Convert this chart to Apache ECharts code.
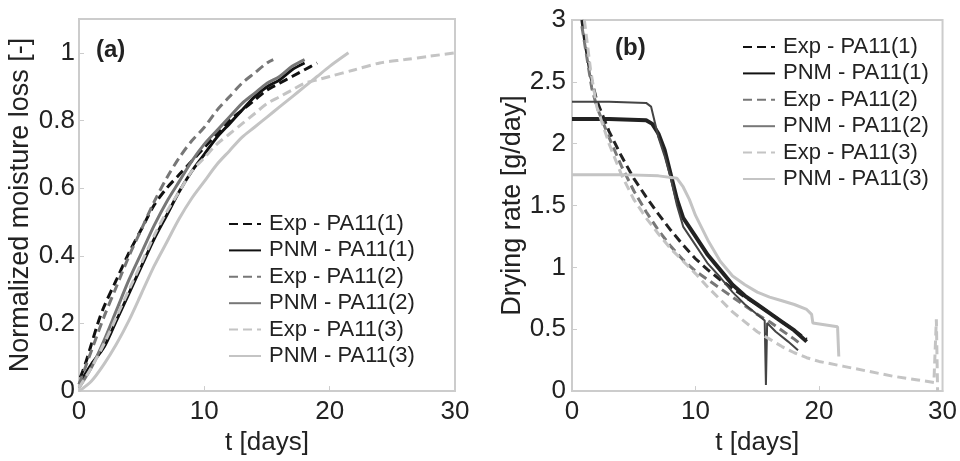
<!DOCTYPE html>
<html>
<head>
<meta charset="utf-8">
<script src="https://cdn.jsdelivr.net/npm/echarts@6/dist/echarts.min.js"></script>
<style>
  html, body { margin: 0; padding: 0; background: #fff; }
  #main { width: 960px; height: 461px; }
</style>
</head>
<body>
<div id="main"></div>
<script>
// legend / series names
var names = ['Exp - PA11(1)', 'PNM - PA11(1)', 'Exp - PA11(2)', 'PNM - PA11(2)', 'Exp - PA11(3)', 'PNM - PA11(3)'];

// (a) normalized moisture loss [-] vs t [days]
var lossExp1 = [[0.1,0.04],[0.5,0.08],[1,0.14],[1.5,0.2],[2,0.25],[3,0.33],[4,0.41],[5,0.48],[6,0.55],[7,0.6],[8,0.64],[9,0.68],[10,0.72],[11,0.76],[12,0.8],[13,0.83],[14,0.86],[15,0.89],[16,0.91],[17,0.93],[18,0.95],[19,0.97]];
var lossPnm1 = [[0,0.02],[1,0.08],[2,0.13],[3,0.21],[4,0.29],[5,0.37],[6,0.45],[7,0.52],[8,0.59],[9,0.65],[10,0.7],[11,0.75],[12,0.79],[13,0.83],[14,0.87],[15,0.9],[16,0.92],[17,0.95],[18,0.97]];
var lossExp2 = [[0,0.02],[1,0.12],[2,0.22],[3,0.31],[4,0.4],[5,0.48],[6,0.56],[7,0.63],[8,0.69],[9,0.74],[10,0.78],[11,0.83],[12,0.87],[13,0.91],[14,0.94],[15,0.97],[15.5,0.98]];
var lossPnm2 = [[0,0.01],[1,0.07],[2,0.15],[3,0.24],[4,0.33],[5,0.41],[6,0.49],[7,0.56],[8,0.62],[9,0.68],[10,0.73],[11,0.77],[12,0.81],[13,0.85],[14,0.88],[15,0.91],[16,0.93],[17,0.96],[18,0.98]];
var lossExp3 = [[0,0.01],[1,0.07],[2,0.14],[3,0.22],[4,0.3],[5,0.38],[6,0.46],[7,0.53],[8,0.59],[9,0.65],[10,0.69],[11,0.73],[12,0.76],[13,0.79],[14,0.82],[15,0.85],[16,0.87],[17,0.89],[18,0.91],[19,0.92],[20,0.93],[22,0.95],[24,0.97],[26,0.98],[28,0.99],[30,1.0]];
var lossPnm3 = [[0,0],[1,0.03],[2,0.08],[3,0.14],[4,0.21],[5,0.29],[6,0.37],[7,0.44],[8,0.51],[9,0.57],[10,0.62],[11,0.67],[12,0.71],[13,0.75],[14,0.78],[15,0.81],[16,0.84],[17,0.87],[18,0.9],[19,0.93],[20,0.96],[21.5,1.0]];

// (b) drying rate [g/day] vs t [days]
var rateExp1 = [[0.8,3.0],[1.0,2.85],[1.5,2.55],[2,2.35],[3,2.1],[4,1.9],[5,1.72],[6,1.57],[7,1.43],[8,1.3],[9,1.18],[10,1.07],[11,0.98],[12,0.9],[13,0.83],[14,0.76],[15,0.7],[16,0.63],[17,0.56],[18,0.49],[19,0.42]];
var ratePnm1 = [[0,2.2],[3,2.2],[6,2.19],[6.5,2.16],[7,2.08],[7.5,1.95],[8,1.75],[8.5,1.55],[9,1.4],[10,1.25],[11,1.1],[12,0.98],[13,0.86],[14,0.77],[15,0.7],[16,0.63],[17,0.56],[18,0.49],[19,0.4]];
var rateExp2 = [[0.8,2.95],[1.2,2.7],[1.6,2.45],[2,2.3],[3,2.05],[4,1.82],[5,1.62],[6,1.45],[7,1.3],[8,1.17],[9,1.06],[10,0.97],[11,0.9],[12,0.83],[13,0.76],[14,0.69],[15,0.62],[16,0.56],[17,0.49],[18,0.42],[18.5,0.38]];
var ratePnm2 = [[0,2.34],[3,2.34],[6,2.33],[6.4,2.3],[7,2.05],[7.5,1.9],[8,1.72],[8.5,1.5],[9,1.33],[10,1.18],[11,1.03],[12,0.92],[13,0.8],[14,0.7],[15,0.62],[15.6,0.57],[15.7,0.05],[15.8,0.55],[16.5,0.48],[17.5,0.4],[18.3,0.33]];
var rateExp3 = [[1,3.0],[1.5,2.6],[2,2.3],[3,2.0],[4,1.75],[5,1.55],[6,1.4],[7,1.27],[8,1.15],[9,1.05],[10,0.95],[11,0.84],[12,0.74],[13,0.64],[14,0.56],[15,0.48],[16,0.42],[17,0.36],[18,0.31],[19,0.27],[20,0.24],[22,0.2],[24,0.16],[26,0.12],[28,0.09],[29.3,0.07],[29.5,0.58],[29.6,0.0]];
var ratePnm3 = [[0,1.75],[4,1.75],[7,1.74],[8.5,1.72],[9,1.65],[9.5,1.55],[10,1.42],[11,1.22],[12,1.05],[13,0.93],[14,0.86],[15,0.8],[16,0.76],[17,0.73],[18,0.7],[19,0.66],[19.4,0.62],[19.5,0.55],[21.5,0.52],[21.6,0.28]];

var xTicks = [0, 10, 20, 30];

var FONT = '"Liberation Sans", Arial, sans-serif';
var black = '#111', grey = '#777', light = '#c4c4c4';

function line(name, data, color, dashed, width, idx, smooth) {
  return {
    name: name,
    type: 'line',
    xAxisIndex: idx,
    yAxisIndex: idx,
    data: data,
    showSymbol: false,
    symbol: 'none',
    smooth: smooth,
    lineStyle: { color: color, width: width, type: dashed ? [9, 5] : 'solid' },
    itemStyle: { color: color },
    z: 3
  };
}

function xAxis(idx) {
  return {
    type: 'value', gridIndex: idx, min: xTicks[0], max: xTicks[xTicks.length - 1], interval: 10,
    name: 't [days]', nameLocation: 'middle', nameGap: 30,
    nameTextStyle: { fontSize: 26, color: '#222', fontFamily: FONT },
    axisLine: { show: true, lineStyle: { color: '#ccc', width: 2 } },
    axisTick: { show: true, inside: true, length: 5, lineStyle: { color: '#ccc' } },
    axisLabel: { fontSize: 26, color: '#222', fontFamily: FONT, margin: 8 },
    splitLine: { show: false }
  };
}

function legend(left, top) {
  return {
    data: names, orient: 'vertical', left: left, top: top,
    itemWidth: 32, itemHeight: 14, itemGap: 2.4, selectedMode: false,
    itemStyle: { opacity: 0 },
    textStyle: { fontSize: 22, color: '#222', fontFamily: FONT, lineHeight: 24, padding: [0, 0, 0, 3] }
  };
}

var chart = echarts.init(document.getElementById('main'));
chart.setOption({
  animation: false,
  backgroundColor: '#fff',
  title: [
    { text: '(a)', left: 96, top: 38, padding: 0, textStyle: { fontSize: 24, fontWeight: 'bold', color: '#222', fontFamily: FONT } },
    { text: '(b)', left: 615, top: 36, padding: 0, textStyle: { fontSize: 24, fontWeight: 'bold', color: '#222', fontFamily: FONT } }
  ],
  grid: [
    { left: 79, top: 19, width: 376, height: 375, show: true, borderColor: '#ccc', borderWidth: 2 },
    { left: 572, top: 20, width: 376, height: 373, show: true, borderColor: '#ccc', borderWidth: 2 }
  ],
  xAxis: [xAxis(0), xAxis(1)],
  yAxis: [
    {
      type: 'value', gridIndex: 0, min: 0, max: 1.1, interval: 0.2,
      name: 'Normalized moisture loss [-]', nameLocation: 'middle', nameGap: 45,
      nameTextStyle: { fontSize: 27, color: '#222', fontFamily: FONT },
      axisLine: { show: true, lineStyle: { color: '#ccc', width: 2 } },
      axisTick: { show: true, inside: true, length: 5, lineStyle: { color: '#ccc' } },
      axisLabel: { fontSize: 26, color: '#222', fontFamily: FONT, margin: 4, showMaxLabel: false },
      splitLine: { show: false }
    },
    {
      type: 'value', gridIndex: 1, min: 0, max: 3, interval: 0.5,
      name: 'Drying rate [g/day]', nameLocation: 'middle', nameGap: 44,
      nameTextStyle: { fontSize: 27, color: '#222', fontFamily: FONT },
      axisLine: { show: true, lineStyle: { color: '#ccc', width: 2 } },
      axisTick: { show: true, inside: true, length: 5, lineStyle: { color: '#ccc' } },
      axisLabel: { fontSize: 26, color: '#222', fontFamily: FONT, margin: 6 },
      splitLine: { show: false }
    }
  ],
  legend: [legend(223, 207), legend(737, 30)],
  series: [
    line(names[0], lossExp1, black, true, 3, 0, 0.3),
    line(names[1], lossPnm1, black, false, 3, 0, 0.3),
    line(names[2], lossExp2, grey, true, 3, 0, 0.3),
    line(names[3], lossPnm2, grey, false, 3, 0, 0.3),
    line(names[4], lossExp3, light, true, 3, 0, 0.3),
    line(names[5], lossPnm3, light, false, 3, 0, 0.3),
    line(names[0], rateExp1, '#222', true, 3, 1, false),
    line(names[1], ratePnm1, '#222', false, 4, 1, false),
    line(names[2], rateExp2, grey, true, 3, 1, false),
    line(names[3], ratePnm2, '#444', false, 2, 1, false),
    line(names[4], rateExp3, light, true, 3, 1, false),
    line(names[5], ratePnm3, light, false, 3, 1, false)
  ]
});
</script>
</body>
</html>
